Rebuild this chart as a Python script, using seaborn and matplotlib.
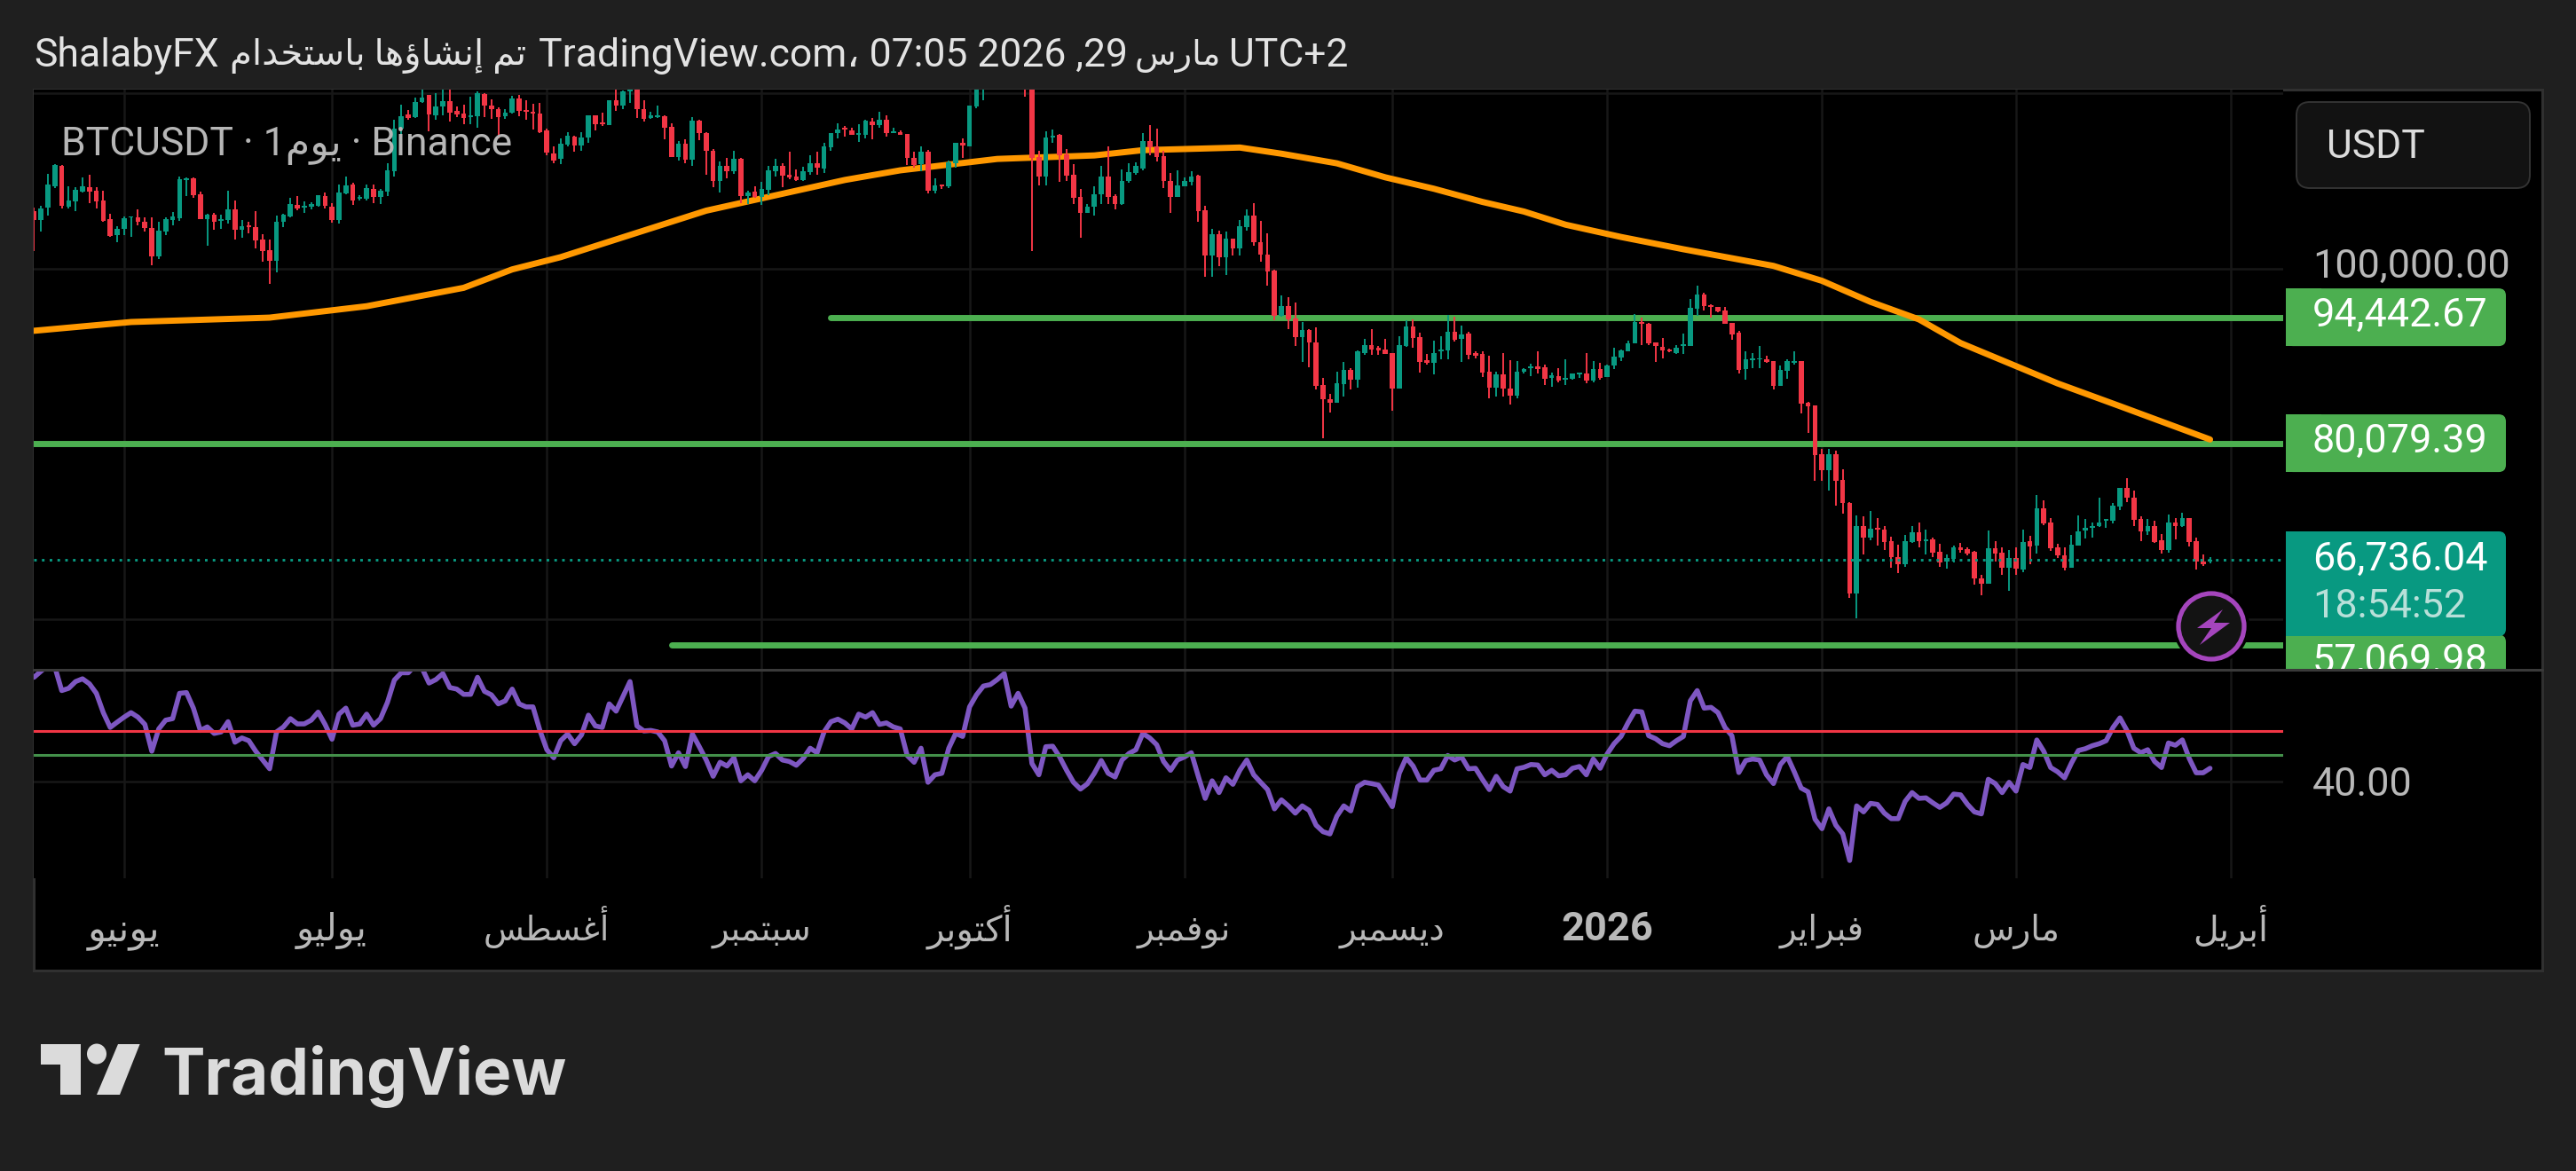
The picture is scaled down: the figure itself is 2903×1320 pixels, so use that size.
import numpy as np
import pandas as pd
import matplotlib
matplotlib.use('Agg')
import matplotlib.pyplot as plt
import seaborn as sns
from matplotlib.patches import FancyBboxPatch, Rectangle, Polygon, Ellipse, Circle

# daily candles, thousands of USDT, first candle 2025-05-19
opens = [106.5,105.5,107.0,109.4,111.7,107.1,107.7,108.8,109.3,108.9,107.8,105.6,103.8,104.5,105.8,105.8,105.3,104.6,101.4,104.2,
         105.5,105.7,110.1,110.3,108.5,105.6,106.1,105.4,105.5,106.7,104.4,104.9,104.7,103.3,102.1,100.9,105.3,105.9,107.3,107.0,
         107.1,107.2,108.3,107.1,105.5,108.6,109.6,108.0,108.0,109.1,108.2,108.8,111.1,116.0,117.6,117.3,119.0,119.8,117.5,118.5,
         119.1,118.0,117.7,117.3,117.4,119.9,118.6,118.2,117.4,117.8,119.4,118.0,117.9,117.7,115.8,113.1,112.5,114.1,115.0,114.0,
         114.9,117.5,116.7,116.4,119.2,118.6,120.2,123.3,118.2,117.2,117.3,117.4,116.2,112.7,114.2,112.4,116.9,115.5,113.4,110.0,
         111.7,111.1,112.5,108.3,108.8,108.2,109.0,111.1,111.7,110.7,110.5,110.1,111.0,112.0,111.4,113.8,115.4,116.1,115.8,115.2,
         115.2,116.8,116.4,117.0,115.5,115.6,115.3,112.6,111.9,113.3,108.9,109.6,109.4,112.0,114.3,113.9,118.5,120.4,122.2,122.4,
         123.5,124.7,121.4,123.3,121.7,112.7,110.5,114.9,115.2,113.0,110.7,108.2,106.3,107.1,108.5,110.5,108.3,107.4,110.0,110.9,
         111.4,114.5,113.9,112.8,110.0,108.2,109.4,109.9,110.6,106.6,101.5,103.9,101.3,103.4,102.3,104.7,106.0,103.0,101.6,99.8,
         94.6,95.7,94.3,92.2,93.0,91.6,86.7,85.1,84.7,86.8,88.4,87.3,90.4,91.3,91.0,90.8,90.4,86.3,91.2,93.4,
         92.2,89.5,89.2,90.6,90.7,92.8,92.0,92.6,90.4,90.3,88.2,86.4,87.9,86.3,85.5,88.2,88.6,88.8,88.7,87.5,
         87.7,87.3,87.4,87.9,88.0,87.2,88.5,87.6,88.9,89.9,90.6,91.5,93.9,93.7,91.6,91.1,90.8,90.4,91.2,91.2,
         95.4,97.0,95.8,95.6,95.2,93.8,92.7,88.5,89.5,89.6,89.6,89.4,86.6,88.3,89.2,89.4,84.7,84.4,78.8,77.0,
         78.8,75.9,73.3,62.9,70.6,69.3,70.4,70.2,68.9,67.1,66.3,68.8,69.9,68.9,69.1,67.7,66.6,66.9,68.2,68.0,
         67.7,64.7,64.0,68.1,67.6,65.9,67.0,65.7,68.9,68.4,72.7,71.0,68.2,67.3,65.9,68.4,70.1,70.4,70.6,71.2,
         71.2,72.9,75.0,73.9,71.4,70.0,70.6,69.0,67.9,71.0,70.6,71.5,68.9,66.6,66.6]
highs = [107.0,107.2,110.8,111.9,111.8,109.4,109.3,110.4,110.7,109.3,108.9,106.2,104.8,105.9,105.9,106.7,105.8,105.8,105.3,105.8,
         106.4,110.5,110.4,110.4,108.8,106.2,106.3,106.1,108.9,107.8,105.5,105.3,106.5,103.9,103.3,106.0,106.2,108.1,108.3,107.7,
         107.6,108.4,108.7,107.5,109.6,110.5,109.8,108.4,109.6,109.6,109.1,112.0,117.0,118.7,118.1,119.5,120.4,119.8,120.0,120.4,
         120.4,118.5,118.7,119.6,120.2,120.0,119.3,118.4,118.2,119.7,119.8,119.2,118.8,118.9,116.0,113.9,114.8,115.6,115.1,115.6,
         117.5,117.5,117.8,119.2,120.4,120.3,124.0,124.5,119.2,117.9,118.6,117.5,116.6,114.5,114.7,117.3,117.0,115.6,113.6,112.2,
         112.6,113.4,112.6,108.9,109.4,109.9,111.7,112.5,112.0,113.3,111.3,111.6,112.9,113.3,114.3,115.4,116.6,116.3,116.1,116.5,
         117.0,117.2,117.9,117.5,116.1,115.8,115.3,113.3,113.9,113.5,110.3,109.6,112.3,114.3,114.8,118.6,120.6,123.9,122.9,125.1,
         126.2,125.1,124.2,123.9,122.5,113.4,115.7,115.9,115.3,113.6,111.9,109.1,107.4,109.4,111.7,113.9,108.5,111.3,112.0,112.1,
         115.4,116.4,116.0,113.4,110.9,111.2,110.4,111.1,110.7,107.2,104.5,104.3,104.2,103.4,105.5,106.7,107.5,105.4,104.0,99.9,
         96.9,96.7,96.1,93.9,93.1,93.3,87.5,85.7,88.2,89.3,88.6,90.7,92.0,93.1,91.2,92.0,90.4,92.3,94.1,94.2,
         92.7,90.3,91.8,92.3,94.7,94.5,93.5,92.8,90.6,90.6,90.1,88.2,90.4,89.5,89.4,88.6,89.1,90.6,89.0,88.1,
         88.6,89.6,88.0,88.1,90.4,89.4,89.2,89.0,91.0,90.8,91.8,94.8,94.4,93.8,91.6,92.1,90.9,91.3,92.6,96.5,
         98.0,97.2,95.9,95.6,95.6,93.8,92.9,90.6,90.4,91.2,90.1,89.4,88.9,89.6,90.6,89.4,84.8,84.4,79.4,79.4,
         79.2,77.1,73.4,71.8,71.7,72.3,71.5,70.6,69.4,68.5,69.6,70.6,71.0,70.2,69.3,68.6,67.4,68.4,68.7,68.2,
         67.8,65.1,70.1,68.9,68.2,67.9,68.2,70.2,69.5,74.2,73.6,71.5,68.6,68.2,69.6,71.8,71.4,71.0,73.9,71.4,
         73.3,75.0,76.1,74.7,71.7,71.4,71.2,69.7,71.9,71.5,72.1,71.5,69.3,67.4,67.1]
lows = [102.0,104.2,106.0,109.2,106.8,106.9,106.5,108.7,107.5,106.8,105.3,103.6,103.0,103.8,103.6,104.9,104.2,100.4,101.1,103.8,
        104.9,105.4,108.3,108.1,105.6,102.6,104.4,104.5,105.1,103.3,103.5,104.0,102.3,100.8,98.2,99.6,104.7,105.8,106.6,106.3,
        106.7,107.1,106.9,105.2,105.1,108.5,107.3,107.8,107.8,107.5,107.4,108.3,110.5,115.1,117.0,117.2,118.9,115.7,117.0,117.5,
        116.8,117.3,116.5,116.5,116.1,117.3,117.1,114.8,117.1,117.7,117.4,117.0,115.9,115.4,112.9,112.0,111.9,113.9,113.3,113.4,
        114.3,115.8,116.3,116.4,118.0,118.2,118.9,117.2,116.8,117.1,117.2,114.7,112.7,112.3,112.0,111.7,114.6,110.7,109.3,108.7,
        110.3,110.8,107.5,107.4,108.1,107.3,108.4,110.5,109.3,110.2,110.0,110.0,110.7,110.7,110.9,113.4,114.8,115.0,115.2,114.4,
        114.8,114.7,116.1,115.0,115.4,115.2,111.8,111.5,111.1,108.6,108.6,109.1,109.2,111.5,112.6,113.9,118.3,119.2,121.6,122.2,
        123.1,120.8,120.8,119.6,102.0,109.5,109.5,114.3,109.9,110.0,107.4,103.5,106.3,106.0,107.4,107.4,106.7,107.3,109.8,110.7,
        111.2,112.9,112.2,109.2,106.3,108.2,109.4,109.5,105.3,99.1,99.1,100.3,99.3,101.5,101.5,104.3,102.6,100.8,98.0,94.1,
        94.5,93.1,91.2,89.3,88.7,86.2,80.6,83.6,84.7,85.4,86.2,86.4,90.2,90.2,90.2,90.3,83.8,86.3,91.1,91.0,
        88.1,89.0,87.9,89.6,89.6,91.7,89.3,89.6,89.8,87.6,85.2,85.4,85.4,84.5,85.2,88.0,87.7,88.0,86.7,86.5,
        87.0,86.7,87.3,87.5,86.9,87.0,87.3,87.6,88.5,89.4,90.6,91.5,91.3,91.3,89.3,89.7,90.5,90.3,90.3,91.2,
        94.6,95.2,94.4,95.0,93.7,91.9,88.0,87.3,88.6,88.6,89.2,86.2,86.6,87.4,89.0,83.5,81.2,75.8,75.8,74.7,
        73.0,72.0,62.4,60.1,67.4,69.0,68.4,67.9,65.9,65.3,66.0,68.7,68.2,67.4,67.1,66.0,65.8,66.5,67.6,67.3,
        63.9,62.7,64.0,66.6,65.1,63.2,65.1,65.4,66.3,67.5,70.7,67.8,67.0,65.6,65.9,68.4,69.2,69.3,70.5,70.4,
        70.9,72.4,73.4,70.6,68.9,69.6,68.7,67.5,67.6,69.1,70.5,68.3,65.7,66.1,66.4]
closes = [105.5,106.9,109.6,111.8,107.2,107.8,109.0,109.4,108.8,107.7,105.4,103.7,104.5,105.7,105.9,105.3,104.6,101.4,104.3,105.6,
          105.9,110.2,110.3,108.4,105.6,106.1,105.3,105.6,106.7,104.4,104.8,104.7,103.2,102.0,100.9,105.3,106.1,107.4,106.8,107.2,
          107.4,108.4,107.2,105.5,108.7,109.5,107.8,108.2,109.2,108.2,108.9,111.2,116.0,117.4,117.2,119.0,119.5,117.6,118.5,119.1,
          117.8,117.6,117.2,117.5,120.0,118.6,118.2,117.3,117.8,119.4,118.0,117.9,117.7,115.6,113.2,112.3,114.2,115.1,114.0,114.9,
          117.5,116.5,116.5,119.2,118.6,120.2,123.3,118.2,117.1,117.5,117.4,116.1,112.7,114.2,112.4,116.9,115.4,113.4,110.0,111.7,
          111.1,112.5,108.3,108.7,108.2,109.1,111.2,111.7,110.6,110.4,110.1,111.1,112.0,111.5,113.9,115.4,115.9,115.9,115.2,115.4,
          116.9,116.4,117.0,115.4,115.7,115.2,112.6,111.8,113.3,108.9,109.5,109.4,112.1,114.3,114.0,118.6,120.4,122.2,122.4,123.5,
          124.7,121.4,123.3,121.7,112.6,110.5,114.9,115.1,112.9,110.6,108.1,106.3,107.1,108.5,110.5,108.2,107.4,110.0,111.0,111.7,
          114.5,113.8,112.7,110.0,108.2,109.5,110.0,110.5,106.5,101.5,103.9,101.3,103.4,102.3,104.8,106.0,103.0,101.6,99.7,94.6,
          95.7,94.2,92.2,93.0,91.6,86.6,85.1,84.7,86.9,88.4,87.3,90.6,91.3,90.8,90.7,90.3,86.3,91.3,93.4,92.1,
          89.3,89.2,90.4,90.8,92.8,91.9,92.5,90.2,90.1,88.1,86.4,87.9,86.3,85.5,88.2,88.5,88.8,88.5,87.4,87.8,
          87.2,87.5,88.0,88.1,87.2,88.5,87.5,88.9,90.0,90.7,91.5,93.9,93.7,91.5,91.2,90.7,90.6,91.0,91.4,95.5,
          97.0,95.7,95.6,95.1,93.7,92.5,88.4,89.6,89.7,89.8,89.3,86.6,88.4,89.4,89.4,84.6,84.3,78.7,77.0,78.8,
          75.8,73.3,62.9,70.6,69.3,70.3,70.2,68.8,67.1,66.3,68.9,69.9,68.9,69.1,67.6,66.5,67.0,68.2,67.9,67.5,
          64.7,64.0,68.1,67.5,65.9,67.0,65.8,68.8,68.3,72.7,70.9,68.1,67.3,65.9,68.5,70.0,70.4,70.6,71.0,71.4,
          73.0,75.0,73.9,71.3,70.0,70.6,68.8,67.9,71.0,70.6,71.5,68.8,66.6,66.3,66.736]

rsi_values = [81.6,84.0,86.4,85.8,76.3,77.2,79.9,81.0,79.0,75.2,67.5,61.6,63.7,65.7,67.5,65.7,62.8,52.1,61.0,64.5,
              65.1,75.2,75.5,69.3,60.4,61.8,59.2,59.8,63.9,55.7,57.4,56.3,52.1,48.6,45.1,59.8,61.8,65.1,63.0,63.0,
              64.5,67.7,62.8,56.9,66.9,69.3,62.5,63.0,66.9,62.5,65.1,71.6,80.5,83.4,83.4,86.4,85.2,79.3,80.7,83.1,
              77.5,76.9,74.8,74.8,81.6,76.0,74.6,71.0,72.2,76.9,71.0,69.8,69.8,60.4,52.7,49.5,56.3,59.0,55.1,58.6,
              66.5,62.2,61.6,71.0,68.1,74.0,79.9,62.2,60.2,60.4,59.8,56.3,46.2,51.5,46.0,59.0,53.9,48.6,42.1,47.7,
              46.2,49.5,40.3,42.7,40.3,44.5,50.0,51.2,48.6,48.0,46.5,49.2,53.3,51.5,59.8,63.9,64.9,63.4,61.0,66.9,
              65.7,67.5,62.8,63.4,61.8,61.0,50.4,47.7,53.3,39.7,42.7,43.3,53.3,59.2,58.0,69.8,74.6,78.1,78.7,80.7,
              83.1,70.1,75.2,69.3,47.2,42.7,53.9,54.1,49.8,44.5,39.7,37.0,39.1,43.3,48.4,43.3,41.8,48.6,51.2,52.7,
              59.2,57.4,54.7,48.0,44.5,48.6,49.8,51.5,42.1,33.3,40.3,35.6,41.5,38.9,44.5,48.6,42.7,39.7,36.8,29.1,
              32.7,30.3,27.4,30.3,28.5,22.6,20.0,19.1,26.2,30.3,28.3,38.0,39.7,39.2,38.6,34.4,30.0,43.3,49.5,46.2,
              40.6,40.6,44.5,45.1,50.4,48.6,49.8,45.1,45.3,40.9,36.8,42.1,38.0,36.2,45.1,45.7,46.8,46.6,42.7,44.5,
              42.3,42.7,45.3,46.0,42.7,49.0,45.3,51.0,55.1,58.0,63.4,68.1,67.8,58.3,57.1,55.1,54.3,56.3,58.0,72.2,
              76.3,69.3,69.6,67.5,61.6,58.3,43.6,48.4,49.0,48.6,42.7,39.2,46.8,50.0,43.9,37.4,35.9,25.0,21.2,29.1,
              22.6,19.1,8.5,30.3,27.9,31.3,30.9,27.4,25.2,25.2,32.1,35.6,33.3,33.5,31.5,29.7,31.5,35.0,34.7,30.9,
              27.9,27.1,40.9,39.2,35.6,39.7,36.2,46.8,45.6,56.6,52.1,45.6,43.9,41.5,47.4,52.4,53.1,54.3,55.1,56.3,
              61.6,65.4,60.4,53.3,51.5,52.7,48.0,45.6,55.4,54.5,56.6,49.2,43.5,43.5,45.3]

# moving average, day number from the first candle and value
ma_days = [0,14,34,48,62,69,76,97,117,125,139,153,160,174,180,188,195,202,209,215,221,229,238,251,258,265,272,278,292,301,314]
ma_values = [92.9,93.9,94.4,95.7,97.8,99.9,101.3,106.6,110.1,111.2,112.5,112.9,113.5,113.8,113.1,112.0,110.4,109.1,107.6,106.5,
             105.0,103.6,102.2,100.3,98.6,96.2,94.2,91.5,86.9,84.3,80.5]

level_prices = [94.44267, 80.07939, 57.06998]
level_starts = ['2025-09-11', '2025-05-18', '2025-08-19']
level_labels = ['94,442.67', '80,079.39', '57,069.98']
last_price = 66.73604
rsi_upper, rsi_lower, rsi_tick = 60, 50.5, 40

month_starts = ['2025-06-01','2025-07-01','2025-08-01','2025-09-01','2025-10-01','2025-11-01','2025-12-01',
                '2026-01-01','2026-02-01','2026-03-01','2026-04-01']
month_labels = ['يونيو','يوليو','أغسطس','سبتمبر','أكتوبر','نوفمبر','ديسمبر','2026','فبراير','مارس','أبريل']
month_sizes = [31, 30, 27, 28, 29, 28, 28, 32.5, 28, 28, 28.5]

BG = '#1f1f1f'
GRID = '#171717'
UP = '#089981'
DOWN = '#f23645'
GREEN = '#4caf50'
ORANGE = '#ff9800'
PURPLE = '#7e57c2'
TXT = '#b8b8b8'
W, H = 2903, 1320

sns.set_theme(style='dark')
plt.rcParams['font.family'] = ['Roboto', 'DejaVu Sans']
plt.rcParams['axes.unicode_minus'] = False

# matplotlib does not join or reorder Arabic, so pick the letter forms here
FORMS = {'ا':(0xFE8D,0xFE8E),'أ':(0xFE83,0xFE84),'إ':(0xFE87,0xFE88),'ؤ':(0xFE85,0xFE86),'د':(0xFEA9,0xFEAA),
         'ر':(0xFEAD,0xFEAE),'و':(0xFEED,0xFEEE),'ب':(0xFE8F,0xFE90,0xFE91,0xFE92),'ت':(0xFE95,0xFE96,0xFE97,0xFE98),
         'خ':(0xFEA5,0xFEA6,0xFEA7,0xFEA8),'س':(0xFEB1,0xFEB2,0xFEB3,0xFEB4),'ش':(0xFEB5,0xFEB6,0xFEB7,0xFEB8),
         'ط':(0xFEC1,0xFEC2,0xFEC3,0xFEC4),'غ':(0xFECD,0xFECE,0xFECF,0xFED0),'ف':(0xFED1,0xFED2,0xFED3,0xFED4),
         'ك':(0xFED9,0xFEDA,0xFEDB,0xFEDC),'ل':(0xFEDD,0xFEDE,0xFEDF,0xFEE0),'م':(0xFEE1,0xFEE2,0xFEE3,0xFEE4),
         'ن':(0xFEE5,0xFEE6,0xFEE7,0xFEE8),'ه':(0xFEE9,0xFEEA,0xFEEB,0xFEEC),'ي':(0xFEF1,0xFEF2,0xFEF3,0xFEF4)}

def shape(text):
    if not any(ch in FORMS for ch in text):
        return text
    out = []
    for i, ch in enumerate(text):
        if ch not in FORMS:
            out.append(ch)
            continue
        prev = text[i-1] if i else ' '
        nxt = text[i+1] if i+1 < len(text) else ' '
        joins_prev = prev in FORMS and len(FORMS[prev]) == 4
        joins_next = nxt in FORMS and len(FORMS[ch]) == 4
        forms = FORMS[ch]
        if joins_prev and joins_next:
            code = forms[3]
        elif joins_next:
            code = forms[2]
        elif joins_prev:
            code = forms[1]
        else:
            code = forms[0]
        out.append(chr(code))
    return ''.join(reversed(out))

def add_axes_px(x0, y0, x1, y1, **kw):
    return fig.add_axes([x0/W, 1-y1/H, (x1-x0)/W, (y1-y0)/H], **kw)

def clean(ax):
    for s in ax.spines.values():
        s.set_visible(False)
    ax.set_xlabel('')
    ax.set_ylabel('')

fig = plt.figure(figsize=(W/100, H/100), dpi=100, facecolor=BG)

dates = pd.date_range('2025-05-19', periods=len(closes), freq='D')
month_dates = pd.to_datetime(month_starts)
x_left = dates[0] - pd.Timedelta(days=0.04)
x_right = dates[0] + pd.Timedelta(days=324.55)

# backing panel and frame
ax_bg = add_axes_px(0, 0, W, H, zorder=0)
ax_bg.set_xlim(0, W)
ax_bg.set_ylim(H, 0)
ax_bg.axis('off')
ax_bg.add_patch(Rectangle((38, 101), 2827, 993, fc='black', ec='#303030', lw=2.2))

# price pane
PRICE_MIN, PRICE_MAX = 54.235, 120.408
ax_price = add_axes_px(38, 101, 2573, 755, zorder=1, facecolor='black')
ax_price.set_xlim(x_left, x_right)
ax_price.set_ylim(PRICE_MIN, PRICE_MAX)
ax_price.set_xticks(month_dates)
ax_price.set_yticks([60, 80, 100, 120])
ax_price.grid(True, color=GRID, lw=1.8)
ax_price.set_axisbelow(True)
ax_price.tick_params(length=0, labelbottom=False, labelleft=False)

for price, start in zip(level_prices, level_starts):
    ax_price.plot([pd.Timestamp(start), x_right], [price, price], color=GREEN, linewidth=5,
                  solid_capstyle='round', zorder=2)

sns.lineplot(x=dates[ma_days], y=ma_values, color=ORANGE, ax=ax_price, zorder=3,
             solid_capstyle='round', solid_joinstyle='round', errorbar=None)
ax_price.lines[-1].set_linewidth(5)

candles = pd.DataFrame({'date': dates, 'open': opens, 'high': highs, 'low': lows, 'close': closes})
candles['color'] = np.where(candles['close'] >= candles['open'], UP, DOWN)
ax_price.vlines(candles['date'], candles['low'], candles['high'], colors=candles['color'], lw=1.4, zorder=4)
ax_price.bar(candles['date'], (candles['close']-candles['open']).abs().clip(lower=0.15),
             bottom=candles[['open', 'close']].min(axis=1), width=0.72, color=candles['color'], lw=0, zorder=5)

ax_price.plot([x_left, x_right], [last_price, last_price], color=UP, lw=2.1, ls=(0, (1, 2)), zorder=6)
clean(ax_price)

# rsi pane
ax_rsi = add_axes_px(38, 755, 2573, 990, zorder=1, facecolor='black')
ax_rsi.set_xlim(x_left, x_right)
ax_rsi.set_ylim(1.42, 84.6)
ax_rsi.set_yticks([rsi_tick])
sns.lineplot(x=dates, y=rsi_values, color=PURPLE, ax=ax_rsi, zorder=3, errorbar=None,
             solid_joinstyle='round', solid_capstyle='round')
ax_rsi.lines[-1].set_linewidth(4)
ax_rsi.axhline(rsi_upper, color=DOWN, lw=2.2, zorder=4)
ax_rsi.axhline(rsi_lower, color='#43904a', lw=2.2, zorder=4)
clean(ax_rsi)
ax_rsi.set_xticks(month_dates)
ax_rsi.set_xticklabels([shape(t) for t in month_labels])
ax_rsi.grid(True, color=GRID, lw=1.8)
ax_rsi.set_axisbelow(True)
ax_rsi.tick_params(axis='x', length=0, pad=50.4, labelcolor=TXT)
ax_rsi.tick_params(axis='y', length=0, labelleft=False)
for lab, txt, size in zip(ax_rsi.get_xticklabels(), month_labels, month_sizes):
    lab.set_verticalalignment('baseline')
    lab.set_fontsize(size)
    if txt == '2026':
        lab.set_fontweight('bold')

# price scale, in pixels so the badge corners stay round
ax_scale = add_axes_px(2573, 101, 2865, 755, zorder=2)
ax_scale.set_xlim(2573, 2865)
ax_scale.set_ylim(755, 101)
ax_scale.axis('off')

def price_y(p):
    return 755 - (p-PRICE_MIN)/(PRICE_MAX-PRICE_MIN)*654

def badge(top, bottom, color, zorder):
    ax_scale.add_patch(FancyBboxPatch((2576, top), 248, bottom-top, boxstyle='round,pad=0,rounding_size=8',
                                      fc=color, ec='none', zorder=zorder))
    ax_scale.add_patch(Rectangle((2576, top), 40, bottom-top, fc=color, ec='none', zorder=zorder))

ax_scale.text(2606, 300.7, '100,000.00', color=TXT, fontsize=32.4, va='center', ha='left')
badge_y = [price_y(level_prices[0]), price_y(level_prices[1]), 748]
for y, lab in zip(badge_y, level_labels):
    badge(y-32.5, y+32.5, GREEN, 3)
    ax_scale.text(2606, y-2, lab, color='white', fontsize=32.4, va='center', ha='left', zorder=4, clip_on=True)
badge(599, 717, UP, 5)
ax_scale.text(2606, 630.7, '66,736.04', color='white', fontsize=32.4, va='center', ha='left', zorder=6)
ax_scale.text(2606, 684, '18:54:52', color='#b8e0d9', fontsize=32.4, va='center', ha='left', zorder=6)
ax_scale.add_patch(FancyBboxPatch((2588, 115), 263, 97, boxstyle='round,pad=0,rounding_size=15',
                                  fc='#121212', ec='#333333', lw=1.4))
ax_scale.text(2622, 165.7, 'USDT', color='#dcdcdc', fontsize=32, va='center', ha='left')

# everything laid over the panes and the page
ax_top = add_axes_px(0, 0, W, H, zorder=3)
ax_top.set_xlim(0, W)
ax_top.set_ylim(H, 0)
ax_top.axis('off')
ax_top.patch.set_alpha(0)

ax_top.plot([38, 2865], [755, 755], color='#3a3a3a', lw=2.2, zorder=1)

HEAD = '#e3e3e3'
ax_top.text(38, 62.7, 'ShalabyFX', color=HEAD, fontsize=32, va='center', ha='left')
ax_top.text(259, 62.7, shape('تم إنشاؤها باستخدام'), color=HEAD, fontsize=29, va='center', ha='left')
ax_top.text(607, 62.7, 'TradingView.com، 07:05 2026 ,29', color=HEAD, fontsize=32, va='center', ha='left')
ax_top.text(1279, 62.7, shape('مارس'), color=HEAD, fontsize=27.5, va='center', ha='left')
ax_top.text(1385, 62.7, 'UTC+2', color=HEAD, fontsize=32, va='center', ha='left')
ax_top.text(69, 164.5, 'BTCUSDT · 1' + shape('يوم') + ' · Binance', color='#b6b6b6', fontsize=32, va='center', ha='left')
ax_top.text(2606, 884.7, '40.00', color=TXT, fontsize=32.4, va='center', ha='left')

# bolt badge on the last candle
ax_top.add_patch(Circle((2492, 706), 43, fc='black', ec='none'))
ax_top.add_patch(Circle((2492, 706), 37, fc='#131313', ec='#a545bd', lw=3.8))
ax_top.add_patch(Polygon([(2505, 687), (2476, 708), (2492, 708), (2479, 727), (2513, 702), (2495, 702)],
                         closed=True, fc='#a545bd', ec='none'))

# logo
LOGO = '#dbdbdb'
ax_top.add_patch(Polygon([(45.5, 1177), (91, 1177), (91, 1234), (68, 1234), (68, 1200), (45.5, 1200)], closed=True, fc=LOGO, ec='none'))
ax_top.add_patch(Ellipse((109, 1188), 22, 23, fc=LOGO, ec='none'))
ax_top.add_patch(Polygon([(133, 1177), (157.6, 1177), (135, 1234), (109, 1234)], closed=True, fc=LOGO, ec='none'))
ax_top.text(182, 1234, 'TradingView', color=LOGO, fontsize=52.4, family='Inter', fontweight='bold', va='baseline', ha='left')

fig.savefig('out.png', dpi=100, facecolor=BG)
